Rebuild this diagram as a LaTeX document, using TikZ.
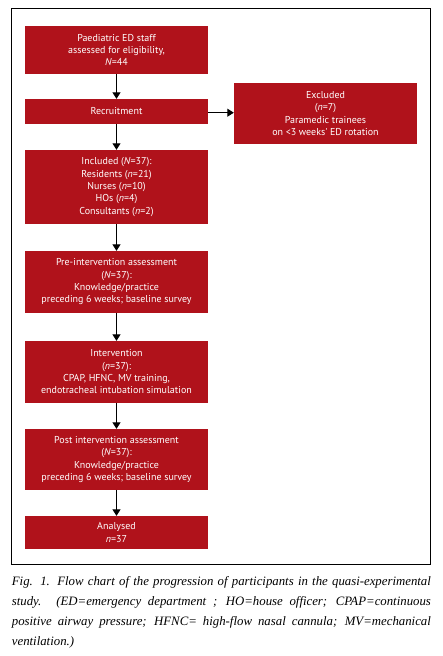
\documentclass[tikz,border=0pt]{standalone}
\usepackage{fontspec}
\setmainfont{Liberation Serif}
\newfontfamily\boxfont{PT Sans}
\usetikzlibrary{arrows.meta}
\definecolor{boxred}{RGB}{176,18,27}

\begin{document}
\begin{tikzpicture}[x=1pt,y=-1pt,
	stage/.style={fill=boxred,text=white,minimum width=183pt,inner sep=0pt,
		align=center,font=\boxfont\fontsize{10}{12.3}\selectfont},
	flow/.style={line width=0.9pt,-{Triangle[length=6.5pt,width=8pt]}}]
		%\draw[blue] (0,0) grid[step=50] (443,656);
		\useasboundingbox (0,0) rectangle (443,656);
		\draw [line width=0.8pt] (11.7,8.3) rectangle (430.7,564.3);

		\node [stage, minimum height=47.7pt] (assessed) at (116.5,49.9)
			{Paediatric ED staff\\assessed for eligibility,\\\textit{N}=44};
		\node [stage, minimum height=24.7pt] (recruit) at (116.5,111.4) {Recruitment};
		\node [stage, minimum height=61pt] (excluded) at (325.5,113.5)
			{Excluded\\(\textit{n}=7)\\Paramedic trainees\\on <3 weeks' ED rotation};
		\node [stage, minimum height=74pt] (included) at (116.5,187)
			{Included (\textit{N}=37):\\Residents (\textit{n}=21)\\Nurses (\textit{n}=10)\\HOs (\textit{n}=4)\\Consultants (\textit{n}=2)};
		\node [stage, minimum height=61.7pt] (pre) at (116.5,281.9)
			{Pre-intervention assessment\\(\textit{N}=37):\\Knowledge/practice\\preceding 6 weeks; baseline survey};
		\node [stage, minimum height=61.7pt] (interv) at (116.5,371.9)
			{Intervention\\(\textit{n}=37):\\CPAP, HFNC, MV training,\\endotracheal intubation simulation};
		\node [stage, minimum height=60.7pt] (post) at (116.5,459.4)
			{Post intervention assessment\\(\textit{N}=37):\\Knowledge/practice\\preceding 6 weeks; baseline survey};
		\node [stage, minimum height=32.7pt] (analysed) at (116.5,532.4)
			{Analysed\\\textit{n}=37};

		\draw [flow] (assessed) -- (recruit);
		\draw [flow] (recruit) -- (included);
		\draw [flow] (included) -- (pre);
		\draw [flow] (pre) -- (interv);
		\draw [flow] (interv) -- (post);
		\draw [flow] (post) -- (analysed);
		\draw [flow] (recruit.east |- 0,112.7) -- (excluded.west |- 0,112.7);

		\node [anchor=north west, text width=419pt, align=justify, inner sep=0pt,
			font=\itshape\fontsize{12.8}{20}\selectfont] (caption) at (11.7,576)
			{Fig. 1. Flow chart of the progression of participants in the quasi-experimental\linebreak
			study. (ED=emergency department ; HO=house officer; CPAP=continuous\linebreak
			positive airway pressure; HFNC= high-flow nasal cannula; MV=mechanical\linebreak
			ventilation.)};
	\end{tikzpicture}
\end{document}
